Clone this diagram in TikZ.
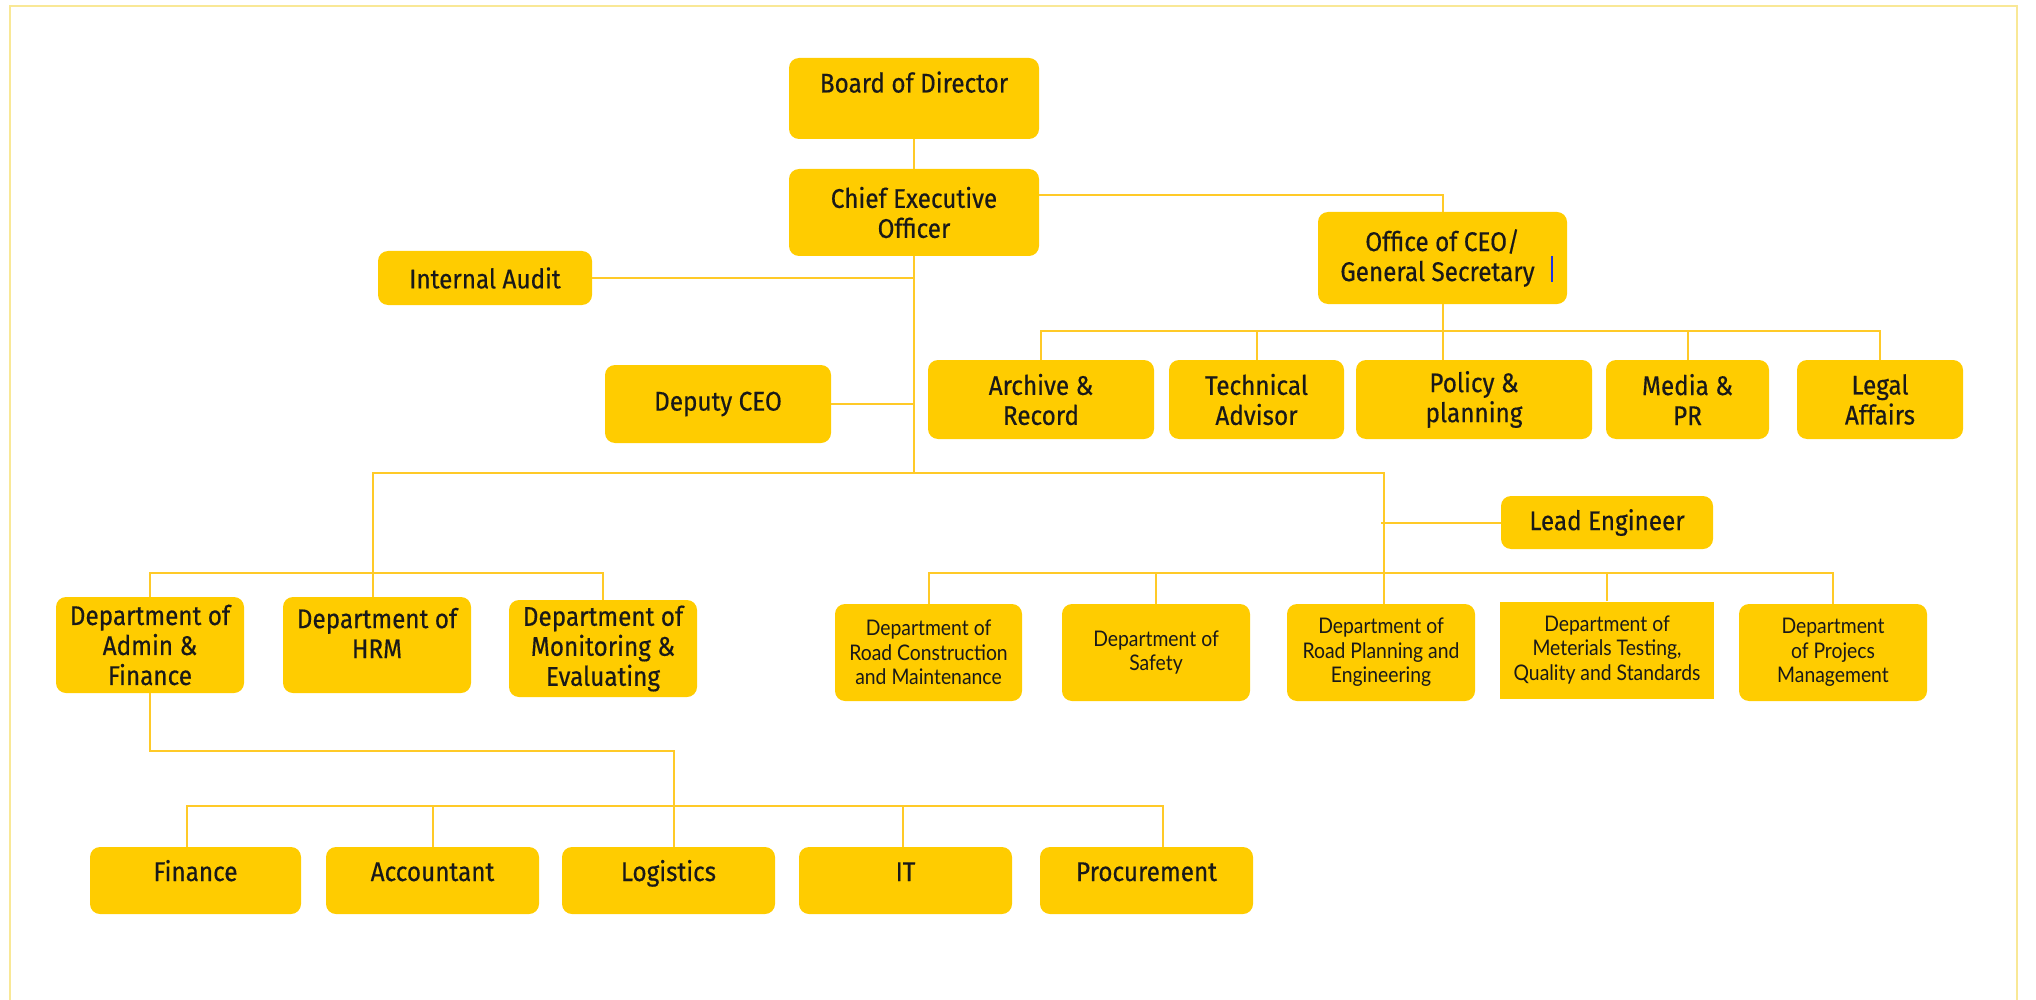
\documentclass[tikz,border=0pt]{standalone}
\usepackage{fontspec}
\newfontfamily\condf[FakeStretch=0.9,FakeBold=0.4]{Fira Sans}
\newfontfamily\latof[FakeStretch=0.9]{Lato}
\definecolor{boxyellow}{RGB}{255,204,0}
\definecolor{lineyellow}{RGB}{255,202,40}
\definecolor{framey}{RGB}{249,232,150}
\definecolor{txt}{RGB}{25,25,25}
\definecolor{cursorblue}{RGB}{30,50,230}
\tikzset{
  box/.style={fill=boxyellow, rounded corners=10pt, inner sep=0pt, align=center, text=txt,
    font=\condf\fontsize{27}{30}\selectfont},
  smallbox/.style={box, font=\latof\fontsize{21.5}{24.5}\selectfont},
  conn/.style={draw=lineyellow, line width=2pt},
}
\begin{document}
\begin{tikzpicture}[x=1pt,y=-1pt]
\useasboundingbox (0,0) rectangle (2036,1000);
\draw[framey, line width=2.5pt] (10,1002) -- (10,6) -- (2017,6) -- (2017,1002);

% top
\node[box, minimum width=250pt, minimum height=81pt, text height=19pt, text depth=31pt] (board) at (914,98.5) {Board of Director};
\node[box, minimum width=250pt, minimum height=87pt] (ceo) at (914,212.5) {Chief Executive\\Officer};
\node[box, minimum width=214pt, minimum height=54pt] (audit) at (485,278) {Internal Audit};
\node[box, minimum width=226pt, minimum height=78pt] (deputy) at (718,404) {Deputy CEO};
\node[box, minimum width=249pt, minimum height=92pt] (office) at (1442.5,258) {Office of CEO/\\General Secretary\hspace*{10pt}};
\coordinate (cur1) at (1552,256);
\coordinate (cur2) at (1552,282);
\draw[cursorblue, line width=1.5pt] (cur1) -- (cur2);

% office row
\node[box, minimum width=226pt, minimum height=79pt] (archive) at (1041,399.5) {Archive \&\\Record};
\node[box, minimum width=175pt, minimum height=79pt] (tech) at (1256.5,399.5) {Technical\\Advisor};
\node[box, minimum width=236pt, minimum height=79pt] (policy) at (1474,399.5) {Policy \&\\planning};
\node[box, minimum width=163pt, minimum height=79pt] (media) at (1687.5,399.5) {Media \&\\PR};
\node[box, minimum width=166pt, minimum height=79pt] (legal) at (1880,399.5) {Legal\\Affairs};

% left departments
\node[box, minimum width=188pt, minimum height=96pt] (admin) at (150,645) {Department of\\Admin \&\\Finance};
\node[box, minimum width=188pt, minimum height=96pt, text depth=24pt] (hrm) at (377,645) {Department of\\HRM};
\node[box, minimum width=188pt, minimum height=97pt] (mon) at (603,648.5) {Department of\\Monitoring \&\\Evaluating};

% lead engineer
\node[box, minimum width=212pt, minimum height=53pt] (lead) at (1607,522.5) {Lead Engineer};

% right departments
\node[smallbox, minimum width=187pt, minimum height=97pt] (rcon) at (928.5,652.5) {Department of\\Road Construction\\and Maintenance};
\node[smallbox, minimum width=188pt, minimum height=97pt] (safety) at (1156,652.5) {Department of\\Safety};
\node[smallbox, minimum width=188pt, minimum height=97pt] (rplan) at (1381,652.5) {Department of\\Road Planning and\\Engineering};
\node[smallbox, rounded corners=0pt, minimum width=214pt, minimum height=97pt] (mat) at (1607,650) {Department of\\Meterials Testing,\\Quality and Standards};
\node[smallbox, minimum width=188pt, minimum height=97pt] (proj) at (1833,652.5) {Department\\of Projecs\\Management};

% bottom row
\node[box, minimum width=211pt, minimum height=67pt, text height=19pt, text depth=18pt] (fin) at (195.5,880.5) {Finance};
\node[box, minimum width=213pt, minimum height=67pt, text height=19pt, text depth=18pt] (acc) at (432.5,880.5) {Accountant};
\node[box, minimum width=213pt, minimum height=67pt, text height=19pt, text depth=18pt] (logi) at (668.5,880.5) {Logistics};
\node[box, minimum width=213pt, minimum height=67pt, text height=19pt, text depth=18pt] (it) at (905.5,880.5) {IT};
\node[box, minimum width=213pt, minimum height=67pt, text height=19pt, text depth=18pt] (proc) at (1146.5,880.5) {Procurement};

% connectors
\coordinate (j1) at (914,473);
\draw[conn] (board.south) -- (ceo.north);
\draw[conn] (ceo.south) -- (j1);
\draw[conn] (audit.east) -- (audit.east -| ceo.south);
\draw[conn] (deputy.east) -- (deputy.east -| ceo.south);
\draw[conn] (ceo.east) ++(0,-17) -| (office.north);
\coordinate (ob) at (1442.5,331);
\draw[conn] (office.south) -- (office.south |- policy.north);
\draw[conn] (archive.north) -- (archive.north |- ob) -- (legal.north |- ob) -- (legal.north);
\draw[conn] (tech.north) -- (tech.north |- ob);
\draw[conn] (media.north) -- (media.north |- ob);

\draw[conn] ([xshift=-4pt]hrm.north) |- (j1) -| ([xshift=3pt]rplan.north);
\draw[conn] (admin.north) -- ++(0,-24) -| (mon.north);
\draw[conn] (lead.west) -- (lead.west -| rplan.north);
\draw[conn] (rcon.north) -- ++(0,-31) -| (proj.north);
\draw[conn] (safety.north) -- ++(0,-31);
\draw[conn] (mat.north) -- ++(0,-29);

\draw[conn] (admin.south) -- ++(0,58) -| ([xshift=5pt]logi.north);
\draw[conn] ([xshift=-9pt]fin.north) -- ++(0,-41) -| ([xshift=16pt]proc.north);
\draw[conn] (acc.north) -- ++(0,-41);
\draw[conn] ([xshift=-3pt]it.north) -- ++(0,-41);
\end{tikzpicture}
\end{document}
